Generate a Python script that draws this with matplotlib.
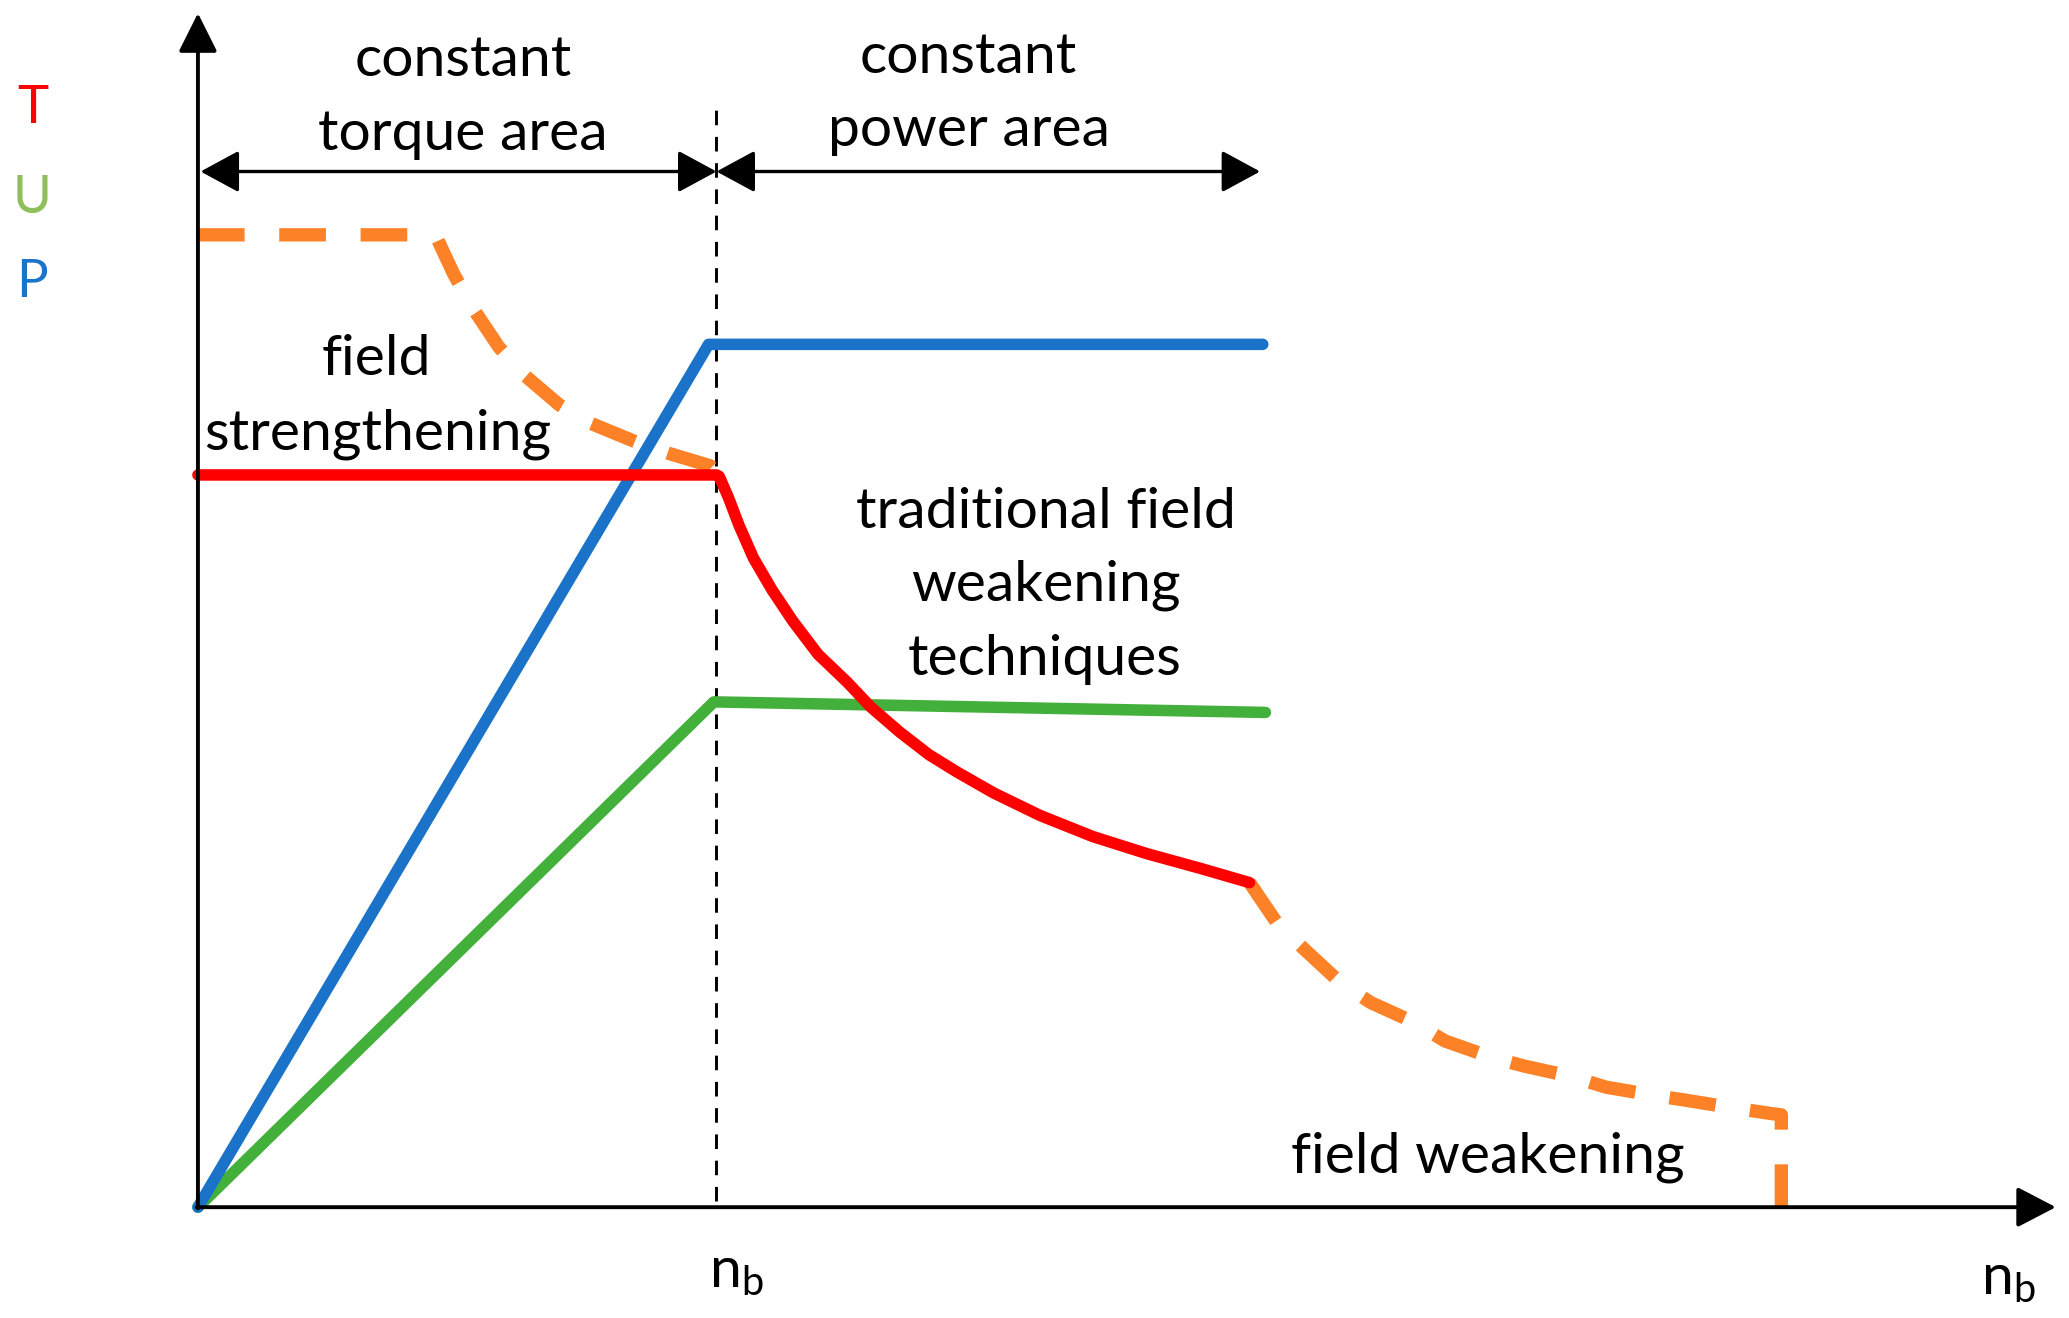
import matplotlib
matplotlib.use("Agg")
import matplotlib.pyplot as plt

plt.rcParams['font.family'] = ['Lato', 'DejaVu Sans']

# speed (n) and curve values, origin at the axes crossing, n_b = 393
nb = 393
n_max = 1408
v_max = 905

n_P = [0, 387, 807]
P = [0, 654, 654]

n_U = [0, 391, 809]
U = [0, 383, 375]

n_T = [0, 393, 395, 402, 410, 421, 435, 451, 470, 492, 510, 532, 554, 575, 603, 638,
       678, 719, 759, 797]
T = [555, 555, 554, 538, 517, 492, 468, 444, 419, 398, 379, 360, 343, 330, 314, 297,
     281, 268, 257, 246]

# field strengthening (left) and field weakening (right) torque, dashed
n_fs = [0, 180, 194, 208, 228, 247, 274, 298, 332, 358, 388, 395]
T_fs = [737, 737, 707, 682, 652, 631, 608, 594, 580, 571, 562, 555]

n_fw = [797, 818, 839, 866, 889, 922, 945, 979, 1005, 1041, 1067, 1102, 1128, 1165,
        1192, 1200, 1200]
T_fw = [246, 215, 195, 170, 155, 140, 126, 114, 107, 99, 91, 85, 81, 75, 71, 70, 0]

c_red = '#FF0000'
c_blue = '#1A73C8'
c_green = '#44B03C'
c_orange = '#FD8126'

fig = plt.figure(figsize=(20.69, 13.18), dpi=100)
ax = fig.add_axes([0, 0, 1, 1])
ax.set_xlim(-150, 1418)
ax.set_ylim(-84, 915)
ax.axis('off')

# axes with arrow heads
ax.annotate('', xy=(n_max, 0), xytext=(-1, 0),
            arrowprops=dict(arrowstyle='-|>,head_length=24,head_width=12.5', mutation_scale=1,
                            lw=2.8, color='black', shrinkA=0, shrinkB=0))
ax.annotate('', xy=(0, v_max), xytext=(0, -1),
            arrowprops=dict(arrowstyle='-|>,head_length=24,head_width=12', mutation_scale=1,
                            lw=2.8, color='black', shrinkA=0, shrinkB=0))

# n_b dashed line
ax.plot([nb, nb], [5, 833], color='black', lw=2.1, dashes=(5, 4))

# area arrows
ax.annotate('', xy=(2, 785), xytext=(nb, 785),
            arrowprops=dict(arrowstyle='<|-|>,head_length=24,head_width=13', mutation_scale=1,
                            lw=2.4, color='black', shrinkA=0, shrinkB=0))
ax.annotate('', xy=(nb, 785), xytext=(805, 785),
            arrowprops=dict(arrowstyle='<|-|>,head_length=24,head_width=13', mutation_scale=1,
                            lw=2.4, color='black', shrinkA=0, shrinkB=0))

lw = 8.3
ax.plot(n_fs, T_fs, color=c_orange, lw=9.6, dashes=(3.5, 2.6), dash_capstyle='butt',
        dash_joinstyle='round')
ax.plot(n_fw, T_fw, color=c_orange, lw=9.6, dashes=(3.5, 2.6), dash_capstyle='butt',
        dash_joinstyle='round')
ax.plot(n_U, U, color=c_green, lw=lw, solid_capstyle='round', solid_joinstyle='round')
ax.plot(n_P, P, color=c_blue, lw=lw, solid_capstyle='round', solid_joinstyle='round')
ax.plot(n_T, T, color=c_red, lw=lw, solid_capstyle='round', solid_joinstyle='round')

fs = 41
txt = dict(fontsize=fs, ha='center', va='baseline', color='black')
ax.text(201, 915 - 57.6, 'constant', **txt)
ax.text(200.5, 915 - 113.7, 'torque area', **txt)
ax.text(583.5, 915 - 55, 'constant', **txt)
ax.text(584.5, 915 - 111, 'power area', **txt)
ax.text(135.5, 915 - 284, 'field', **txt)
ax.text(136.5, 915 - 341, 'strengthening', **txt)
ax.text(643, 915 - 400, 'traditional field', **txt)
ax.text(642.5, 915 - 455.5, 'weakening', **txt)
ax.text(641.5, 915 - 511.6, 'techniques', **txt)
ax.text(977.5, 915 - 889, 'field weakening', **txt)
ax.text(408, 915 - 976, r'$\mathregular{n_b}$', **txt)
ax.text(1372, 915 - 981, r'$\mathregular{n_b}$', **txt)

ax.text(-125.5, 915 - 93.5, 'T', fontsize=38, ha='center', va='baseline', color=c_red)
ax.text(-125.5, 915 - 161.6, 'U', fontsize=38, ha='center', va='baseline', color='#8FBF5A')
ax.text(-125.5, 915 - 225, 'P', fontsize=38, ha='center', va='baseline', color='#1A74C9')

fig.savefig('out.png', dpi=100)
